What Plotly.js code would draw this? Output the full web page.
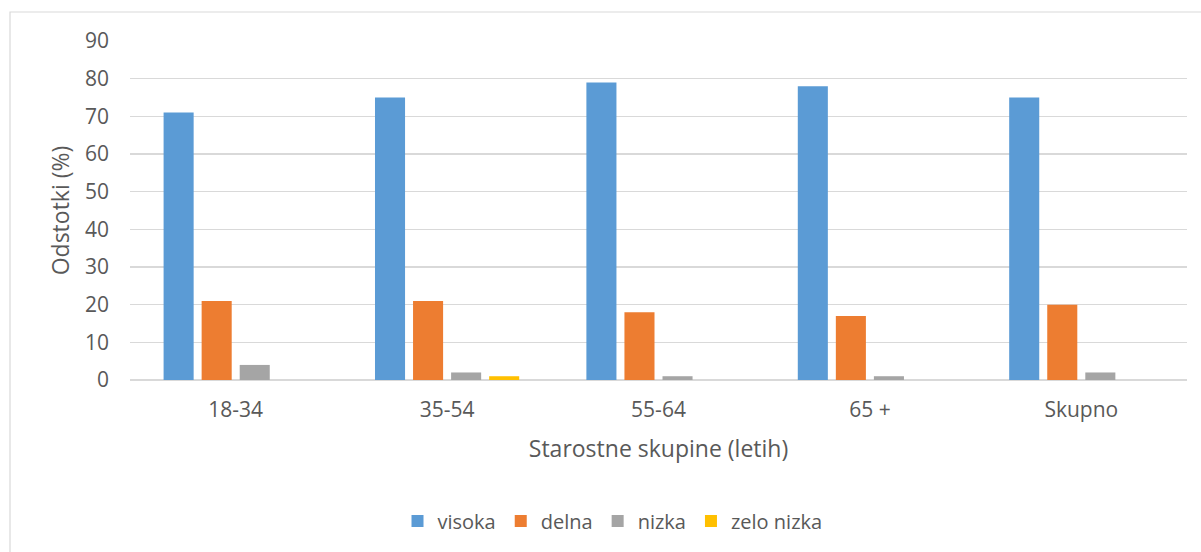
<!DOCTYPE html>
<html>
<head>
<meta charset="utf-8">
<script src="https://cdn.plot.ly/plotly-3.0.1.min.js"></script>
<style>
html,body{margin:0;padding:0;background:#fff;}
#chart{width:1201px;height:552px;}
</style>
</head>
<body>
<div id="chart"></div>
<script>
const categories = ["18-34", "35-54", "55-64", "65 +", "Skupno"];
const seriesNames = ["visoka", "delna", "nizka", "zelo nizka"];
const visoka = [71, 75, 79, 78, 75];
const delna = [21, 21, 18, 17, 20];
const nizka = [4, 2, 1, 1, 2];
const zeloNizka = [0, 1, 0, 0, 0];
const yTicks = [0, 10, 20, 30, 40, 50, 60, 70, 80, 90];
const colors = ["#5B9BD5", "#ED7D31", "#A5A5A5", "#FFC000"];

const allValues = [visoka, delna, nizka, zeloNizka];
const font = "Open Sans, sans-serif";
const traces = allValues.map((vals, i) => ({
  type: "bar",
  name: seriesNames[i],
  x: categories,
  y: vals,
  marker: {color: colors[i]},
  hoverinfo: "x+y+name"
}));

const layout = {
  width: 1201,
  height: 552,
  margin: {l: 130, r: 14, t: 41, b: 172},
  paper_bgcolor: "#fff",
  plot_bgcolor: "#fff",
  barmode: "group",
  bargap: 0.28,
  bargroupgap: 0.21,
  font: {family: font, color: "#595959"},
  showlegend: true,
  legend: {
    orientation: "h",
    xref: "container", yref: "container",
    x: 0.51, xanchor: "center",
    y: 0.056, yanchor: "middle",
    font: {size: 20, color: "#595959", family: font},
    itemwidth: 30,
    traceorder: "normal"
  },
  xaxis: {
    type: "category",
    tickfont: {size: 21, color: "#595959", family: font},
    showgrid: false,
    showline: false,
    ticks: "",
    ticklabelstandoff: 15,
    title: {text: "Starostne skupine (letih)", font: {size: 23, color: "#595959", family: font}, standoff: 18}
  },
  yaxis: {
    range: [0, 90],
    tickvals: yTicks,
    ticktext: yTicks.map(String),
    tickfont: {size: 21, color: "#595959", family: font},
    showgrid: true,
    gridcolor: "#D9D9D9",
    gridwidth: 1.5,
    zeroline: true,
    zerolinecolor: "#D9D9D9",
    zerolinewidth: 1.5,
    showline: false,
    ticks: "",
    ticklabelstandoff: 20,
    title: {text: "Odstotki (%)", font: {size: 23, color: "#595959", family: font}, standoff: 8}
  },
  shapes: [{
    type: "rect",
    xref: "paper", yref: "paper",
    x0: (10 - 130) / 1057, x1: 1.3,
    y0: -1, y1: (380 - 12) / 339,
    line: {color: "#D9D9D9", width: 1.2},
    fillcolor: "rgba(0,0,0,0)",
    layer: "below"
  }]
};

Plotly.newPlot("chart", traces, layout, {displayModeBar: false, staticPlot: true});
</script>
</body>
</html>
